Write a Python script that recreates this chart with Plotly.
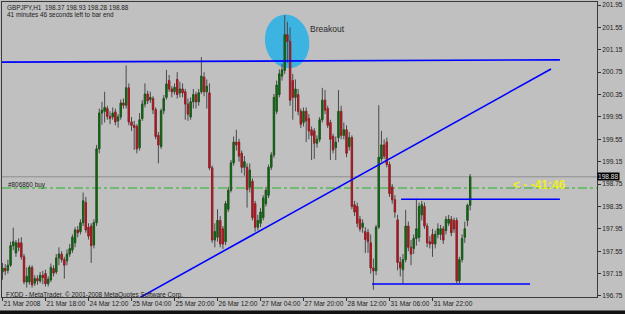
import math
import plotly.graph_objects as go

# ---------------- data (GBPJPY H1) ----------------
ohlc_rows = [
    (197.18, 197.34, 197.04, 197.25), (197.24, 197.32, 197.12, 197.20), (197.21, 197.40, 197.15, 197.30),
    (197.30, 197.72, 197.27, 197.65), (197.65, 197.97, 197.57, 197.72), (197.52, 197.75, 197.45, 197.70),
    (197.70, 197.78, 197.55, 197.62), (197.70, 197.80, 197.40, 197.45), (197.45, 197.50, 196.96, 197.00),
    (197.00, 197.26, 196.90, 197.10), (197.00, 197.30, 196.95, 197.26), (197.26, 197.30, 196.90, 196.95),
    (196.98, 197.12, 196.93, 197.06), (197.06, 197.12, 196.95, 197.02), (197.02, 197.18, 196.98, 197.12),
    (197.12, 197.20, 196.96, 197.08), (197.15, 197.22, 196.92, 196.97), (196.97, 197.10, 196.92, 197.05),
    (197.04, 197.33, 197.00, 197.26), (197.24, 197.30, 197.10, 197.16), (197.18, 197.50, 197.14, 197.43),
    (197.43, 197.62, 197.30, 197.50), (197.50, 197.55, 197.35, 197.40), (197.40, 197.45, 197.06, 197.30),
    (197.38, 197.58, 197.30, 197.50), (197.50, 197.68, 197.45, 197.60), (197.57, 197.85, 197.52, 197.80),
    (197.70, 197.98, 197.62, 197.93), (197.93, 198.00, 197.80, 197.88), (197.90, 198.12, 197.85, 198.06),
    (198.06, 198.60, 198.00, 198.45), (198.42, 198.52, 197.88, 197.93), (197.98, 198.05, 197.76, 197.82),
    (198.00, 198.05, 197.34, 197.65), (197.66, 198.12, 197.60, 198.06), (198.06, 199.45, 198.00, 199.38),
    (199.38, 200.10, 199.30, 200.02), (200.02, 200.22, 199.81, 200.07), (200.05, 200.40, 199.85, 200.12),
    (200.10, 200.15, 199.90, 199.96), (199.96, 200.05, 199.82, 199.92), (199.95, 200.12, 199.90, 200.02),
    (200.04, 200.10, 199.80, 199.86), (199.88, 200.00, 199.76, 199.95), (199.95, 200.26, 199.90, 200.20),
    (200.20, 200.28, 200.10, 200.16), (200.16, 200.87, 200.10, 200.47), (200.47, 200.55, 199.80, 199.86),
    (199.86, 199.95, 199.70, 199.80), (199.80, 199.88, 199.36, 199.76), (199.78, 199.82, 199.30, 199.38),
    (199.40, 200.02, 199.35, 199.90), (199.92, 200.25, 199.88, 200.18), (200.18, 200.55, 200.12, 200.36),
    (200.36, 200.42, 200.18, 200.24), (200.26, 200.40, 200.20, 200.30), (200.28, 200.32, 200.00, 200.08),
    (200.08, 200.12, 199.55, 199.60), (199.62, 199.68, 199.12, 199.45), (199.42, 200.10, 199.38, 200.06),
    (200.06, 200.34, 200.00, 200.28), (200.30, 200.79, 200.26, 200.54), (200.60, 200.70, 200.40, 200.45),
    (200.45, 200.50, 200.30, 200.40), (200.40, 200.55, 200.35, 200.48), (200.62, 200.75, 200.28, 200.35),
    (200.38, 200.58, 200.30, 200.45), (200.45, 200.55, 200.30, 200.38), (200.40, 200.45, 199.90, 200.18),
    (200.18, 200.28, 199.88, 200.00), (199.95, 200.30, 199.90, 200.22), (200.22, 200.45, 200.10, 200.35),
    (200.35, 200.40, 200.10, 200.22), (200.22, 200.45, 200.15, 200.38), (200.40, 201.02, 200.36, 200.68),
    (200.66, 200.75, 200.32, 200.40), (200.40, 200.62, 200.10, 200.50), (200.38, 200.55, 199.00, 199.04),
    (199.04, 199.08, 197.70, 197.75), (197.75, 198.05, 197.62, 197.90), (197.80, 198.30, 197.72, 198.10),
    (198.10, 198.18, 197.62, 197.68), (197.95, 198.00, 197.59, 197.68), (197.72, 198.45, 197.66, 198.40),
    (198.30, 198.70, 198.25, 198.64), (198.64, 199.18, 198.60, 199.13), (199.13, 199.60, 199.08, 199.50),
    (199.50, 199.72, 199.35, 199.45), (199.50, 199.56, 199.15, 199.25), (199.30, 199.35, 198.95, 199.05),
    (199.05, 199.25, 198.90, 199.15), (199.05, 199.12, 198.33, 198.65), (198.70, 199.12, 198.60, 199.00),
    (198.80, 198.85, 198.10, 198.15), (198.40, 198.45, 197.90, 197.98), (197.98, 198.20, 197.92, 198.10),
    (198.05, 198.32, 197.98, 198.25), (198.15, 198.55, 198.10, 198.50), (198.40, 198.70, 198.35, 198.64),
    (198.55, 199.10, 198.50, 199.05), (199.05, 199.32, 199.00, 199.27), (199.27, 200.36, 199.22, 200.30),
    (200.05, 200.60, 200.00, 200.52), (200.35, 200.80, 200.30, 200.72), (200.68, 200.90, 200.60, 200.79),
    (200.78, 201.77, 200.72, 201.42), (201.42, 201.65, 200.92, 201.30), (201.30, 201.55, 200.15, 200.25),
    (200.60, 200.72, 199.90, 200.30), (200.30, 200.62, 200.05, 200.45), (200.35, 200.45, 199.98, 200.05),
    (200.05, 200.10, 199.75, 199.82), (199.85, 200.12, 199.78, 200.05), (200.05, 200.12, 199.50, 199.88),
    (199.92, 200.00, 199.55, 199.70), (199.72, 199.78, 199.18, 199.62), (199.70, 199.75, 199.20, 199.48),
    (199.48, 199.62, 199.40, 199.55), (199.55, 199.95, 199.50, 199.90), (199.90, 200.47, 199.85, 200.25),
    (200.25, 200.43, 200.00, 200.07), (200.10, 200.15, 199.75, 199.80), (199.85, 199.90, 199.18, 199.55),
    (199.60, 199.65, 199.30, 199.36), (199.40, 199.60, 199.18, 199.50), (199.58, 200.43, 199.50, 200.05),
    (200.05, 200.15, 199.55, 199.62), (199.62, 199.85, 199.55, 199.72), (199.72, 199.80, 199.23, 199.30),
    (199.42, 199.68, 199.35, 199.58), (199.58, 199.62, 198.30, 198.35), (198.38, 198.45, 198.18, 198.25),
    (198.35, 198.42, 197.98, 198.05), (198.12, 198.18, 197.90, 197.95), (197.98, 198.12, 197.88, 198.05),
    (197.90, 197.98, 197.52, 197.76), (197.88, 197.95, 197.52, 197.72), (197.70, 197.85, 197.15, 197.25),
    (197.25, 197.42, 196.86, 197.20), (197.20, 198.02, 197.12, 197.98), (197.98, 200.16, 197.95, 199.23),
    (199.20, 199.70, 199.15, 199.45), (199.45, 199.55, 199.20, 199.25), (199.50, 199.58, 199.05, 199.10),
    (199.10, 199.15, 198.52, 198.58), (198.70, 198.75, 198.40, 198.47), (198.47, 198.55, 198.15, 198.25),
    (198.11, 198.20, 197.21, 197.35), (197.35, 197.45, 197.10, 197.25), (197.22, 197.50, 196.97, 197.40),
    (197.40, 198.29, 197.35, 198.00), (198.00, 198.08, 197.55, 197.62), (197.62, 197.75, 197.30, 197.50),
    (197.60, 197.85, 197.50, 197.78), (197.78, 198.49, 197.65, 197.95), (197.80, 198.42, 197.72, 198.35),
    (198.20, 198.45, 198.10, 198.38), (198.35, 198.42, 197.95, 198.00), (198.00, 198.05, 197.62, 197.70),
    (197.72, 197.82, 197.60, 197.68), (197.85, 197.95, 197.45, 197.68), (197.68, 197.92, 197.60, 197.85),
    (197.85, 198.05, 197.78, 197.95), (197.85, 198.02, 197.75, 197.95), (197.95, 198.00, 197.68, 197.75),
    (197.92, 198.18, 197.85, 198.12), (198.05, 198.20, 198.00, 198.12), (198.12, 198.18, 197.82, 197.88),
    (198.10, 198.15, 197.88, 197.95), (198.10, 198.15, 196.98, 197.02), (197.02, 197.45, 196.97, 197.40),
    (197.40, 197.85, 197.35, 197.78), (197.80, 198.08, 197.70, 197.95), (198.10, 198.40, 198.00, 198.37),
    (198.37, 198.93, 198.28, 198.88),
]
opens = [r[0] for r in ohlc_rows]
highs = [r[1] for r in ohlc_rows]
lows = [r[2] for r in ohlc_rows]
closes = [r[3] for r in ohlc_rows]
bars = list(range(len(ohlc_rows)))

time_tick_bars = [0, 16, 32, 48, 64, 80, 96, 112, 128, 144, 160]
time_tick_labels = ["21 Mar 2008", "21 Mar 18:00", "24 Mar 12:00", "25 Mar 04:00", "25 Mar 20:00",
                    "26 Mar 12:00", "27 Mar 04:00", "27 Mar 20:00", "28 Mar 12:00", "31 Mar 06:00",
                    "31 Mar 22:00"]
price_ticks = [201.95, 201.55, 201.15, 200.75, 200.35, 199.95, 199.55, 199.15,
               198.75, 198.35, 197.95, 197.55, 197.15, 196.75]

bid_price = 198.88
order_price = 198.68
# trend lines: (bar0, price0, bar1, price1)
resistance_line = (-0.19, 200.93, 207.4, 200.97)
trend_line = (51.2, 196.725, 204.1, 200.806)
support_line = (137.5, 196.964, 196.3, 196.964)
range_top_line = (148.3, 198.478, 207.4, 198.478)
breakout_center = (105.9, 201.30)

# ---------------- figure ----------------
X_RANGE = [-0.19, 221.2]
Y_RANGE = [196.732, 202.004]
FONT = "Liberation Sans"
BG = "#C0C0C0"

fig = go.Figure()

# wicks
fig.add_trace(go.Candlestick(
    x=bars, open=opens, high=highs, low=lows, close=closes,
    increasing=dict(line=dict(color="#4A4A4A", width=1), fillcolor="rgba(0,0,0,0)"),
    decreasing=dict(line=dict(color="#4A4A4A", width=1), fillcolor="rgba(0,0,0,0)"),
    whiskerwidth=0, showlegend=False, hoverinfo="skip"))
# bodies
body_hi = [max(o, c) for o, c in zip(opens, closes)]
body_lo = [min(o, c) for o, c in zip(opens, closes)]
fig.add_trace(go.Candlestick(
    x=bars, open=opens, high=body_hi, low=body_lo, close=closes,
    increasing=dict(line=dict(color="#0C5E0C", width=0.6), fillcolor="#0E6A0E"),
    decreasing=dict(line=dict(color="#A8141C", width=0.6), fillcolor="#B4161E"),
    whiskerwidth=0, showlegend=False, hoverinfo="skip"))

# pixel scale helpers for the ellipse drawing (595 x 295 plot area)
px_per_bar = 595 / (X_RANGE[1] - X_RANGE[0])
px_per_price = 295 / (Y_RANGE[1] - Y_RANGE[0])
cx, cy = breakout_center
a_px, b_px, theta = 27.0, 22.0, math.radians(11)
pts = []
for k in range(49):
    t = 2 * math.pi * k / 48
    dx = a_px * math.cos(t) * math.sin(theta) + b_px * math.sin(t) * math.cos(theta)
    dy = a_px * math.cos(t) * math.cos(theta) - b_px * math.sin(t) * math.sin(theta)
    pts.append((cx + dx / px_per_bar, cy - dy / px_per_price))
path = "M " + " L ".join(f"{x:.4f},{y:.5f}" for x, y in pts) + " Z"

shapes = [
    dict(type="path", path=path, xref="x", yref="y", fillcolor="#3DB3E2",
         line=dict(width=0), layer="below"),
    dict(type="line", xref="paper", x0=0, x1=1, yref="y", y0=bid_price, y1=bid_price,
         line=dict(color="#8E8E8E", width=1), layer="below"),
    dict(type="line", xref="paper", x0=0, x1=1, yref="y", y0=order_price, y1=order_price,
         line=dict(color="#22B422", width=1, dash="dashdot"), layer="below"),
]
for (x0, y0, x1, y1) in [resistance_line, trend_line, support_line, range_top_line]:
    shapes.append(dict(type="line", xref="x", yref="y", x0=x0, y0=y0, x1=x1, y1=y1,
                       line=dict(color="#0000FF", width=1.6), layer="above"))
# bottom dark strip of the window
shapes.append(dict(type="rect", xref="paper", yref="paper", x0=-0.01, x1=1.06,
                   y0=-0.062, y1=-0.046, fillcolor="#111111", line=dict(width=0)))

small = dict(family=FONT, size=6.4, color="#1E1E1E")
annotations = [
    dict(text="GBPJPY,H1  198.37 198.93 198.28 198.88", xref="paper", yref="paper",
         x=0.005, y=0.983, xanchor="left", yanchor="middle", showarrow=False, font=small),
    dict(text="41 minutes 46 seconds left to bar end", xref="paper", yref="paper",
         x=0.005, y=0.958, xanchor="left", yanchor="middle", showarrow=False, font=small),
    dict(text="#806860 buy", xref="paper", yref="paper",
         x=0.007, y=0.380, xanchor="left", yanchor="middle", showarrow=False, font=small),
    dict(text="FXDD - MetaTrader, © 2001-2008 MetaQuotes Software Corp.", xref="paper", yref="paper",
         x=0.004, y=0.006, xanchor="left", yanchor="middle", showarrow=False, font=small),
    dict(text="Breakout", xref="paper", yref="paper", x=0.514, y=0.9085,
         xanchor="left", yanchor="middle", showarrow=False,
         font=dict(family=FONT, size=8.5, color="#2A2A2A")),
    dict(text="<b>&lt; - -41:46</b>", xref="paper", yref="paper", x=0.855, y=0.379,
         xanchor="left", yanchor="middle", showarrow=False,
         font=dict(family=FONT, size=12, color="#EEEE22")),
    dict(text=f"{bid_price:.2f}", xref="paper", yref="y", x=1.0, y=bid_price,
         xanchor="left", yanchor="middle", showarrow=False, bgcolor="#000000",
         borderpad=0, font=dict(family=FONT, size=6.6, color="#E0E0E0")),
]

fig.update_layout(
    width=625, height=314,
    margin=dict(l=2, r=28, t=2, b=17, autoexpand=False),
    paper_bgcolor=BG, plot_bgcolor=BG,
    shapes=shapes, annotations=annotations,
    showlegend=False,
    xaxis=dict(range=X_RANGE, tickvals=time_tick_bars, ticktext=time_tick_labels,
               ticks="outside", ticklen=3, tickcolor="#303030", tickangle=0,
               ticklabelposition="outside right", automargin=False,
               tickfont=dict(family=FONT, size=6.6, color="#1E1E1E"),
               showline=True, linecolor="#3A3A3A", linewidth=1, mirror=True,
               showgrid=False, zeroline=False, rangeslider=dict(visible=False),
               fixedrange=True),
    yaxis=dict(range=Y_RANGE, side="right", tickvals=price_ticks,
               ticktext=[f"{p:.2f}" for p in price_ticks], automargin=False,
               ticks="outside", ticklen=3, tickcolor="#303030",
               tickfont=dict(family=FONT, size=6.6, color="#1E1E1E"),
               showline=True, linecolor="#3A3A3A", linewidth=1, mirror=True,
               showgrid=False, zeroline=False, fixedrange=True),
)

fig.write_html("out.html")
